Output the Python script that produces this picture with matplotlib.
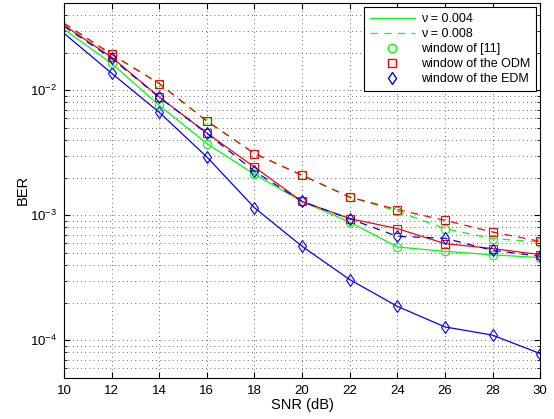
import matplotlib
matplotlib.use("Agg")
import matplotlib.pyplot as plt
from matplotlib.lines import Line2D
from matplotlib.ticker import LogLocator, NullFormatter

plt.rcParams['font.family'] = ['Liberation Sans', 'DejaVu Sans']
plt.rcParams['mathtext.fontset'] = 'custom'
plt.rcParams['mathtext.rm'] = 'Liberation Sans'

snr = [10, 12, 14, 16, 18, 20, 22, 24, 26, 28, 30]

# window of [11]
ber_w11_004 = [0.0308, 0.0164, 0.00759, 0.00375, 0.00213, 0.00129, 0.000884, 0.000558, 0.000515, 0.000483, 0.000459]
ber_w11_008 = [0.0343, 0.0194, 0.01132, 0.00568, 0.00312, 0.00209, 0.00140, 0.00108, 0.000783, 0.000651, 0.000611]
# window of the ODM
ber_odm_004 = [0.0331, 0.0184, 0.00884, 0.00455, 0.00243, 0.00129, 0.000941, 0.000783, 0.000594, 0.000542, 0.000485]
ber_odm_008 = [0.0344, 0.0194, 0.01132, 0.00568, 0.00312, 0.00209, 0.00140, 0.00111, 0.000912, 0.000735, 0.000619]
# window of the EDM
ber_edm_004 = [0.0286, 0.0137, 0.00667, 0.00293, 0.00115, 0.000565, 0.000306, 0.000187, 0.000128, 0.000110, 7.83e-5]
ber_edm_008 = [0.0325, 0.0180, 0.00879, 0.00453, 0.00225, 0.00129, 0.000938, 0.000679, 0.000655, 0.000525, 0.000470]

fig = plt.figure(figsize=(5.54, 4.19), dpi=100)
ax = fig.add_axes([0.1155, 0.098, 0.8595, 0.895])

G = (0, 1, 0)
R = (1, 0, 0)
B = (0, 0, 1)
mk = dict(markevery=list(range(1, len(snr))), markersize=6, markerfacecolor='none',
          markeredgewidth=0.8, linewidth=0.9)
dash = (6, 5)

ax.plot(snr, ber_edm_004, color=B, marker='d', **mk)
ax.plot(snr, ber_w11_004, color=G, marker='o', **mk)
ax.plot(snr, ber_w11_008, color=G, marker='o', dashes=dash, **mk)
ax.plot(snr, ber_odm_004, color=R, marker='s', **mk)
ax.plot(snr, ber_odm_008, color=R, marker='s', dashes=dash, **mk)
ax.plot(snr, ber_edm_008, color=B, marker='d', dashes=dash, **mk)

ax.set_yscale('log')
ax.set_xlim(10, 30)
ax.set_ylim(5e-5, 5e-2)
ax.set_xticks(range(10, 31, 2))
ax.yaxis.set_major_locator(LogLocator(base=10, numticks=10))
ax.yaxis.set_minor_locator(LogLocator(base=10, subs=range(2, 10), numticks=20))
ax.yaxis.set_minor_formatter(NullFormatter())

gkw = dict(linestyle=(0, (1, 4)), color='0.25', linewidth=0.6)
ax.grid(True, which='major', **gkw)
ax.grid(True, which='minor', axis='y', **gkw)

ax.tick_params(which='both', direction='in', top=True, right=True, labelsize=9.5)
ax.tick_params(which='major', length=4, pad=5)
ax.tick_params(which='minor', length=2)
for s in ax.spines.values():
    s.set_linewidth(0.8)

ax.set_xlabel('SNR (dB)', fontsize=10.5, labelpad=1)
ax.set_ylabel('BER', fontsize=10.5, labelpad=0)

handles = [
    Line2D([], [], color=G, linewidth=0.9),
    Line2D([], [], color=G, linewidth=0.9, dashes=dash),
    Line2D([], [], color=G, marker='o', linestyle='none', markerfacecolor='none', markersize=6),
    Line2D([], [], color=R, marker='s', linestyle='none', markerfacecolor='none', markersize=6),
    Line2D([], [], color=B, marker='d', linestyle='none', markerfacecolor='none', markersize=6),
]
labels = ['\u03bd = 0.004', '\u03bd = 0.008', 'window of [11]', 'window of the ODM', 'window of the EDM']
leg = ax.legend(handles, labels, loc='upper right', fontsize=9, fancybox=False,
                framealpha=1, edgecolor='k', borderaxespad=0.35, handlelength=3.6,
                labelspacing=0.25, borderpad=0.45, handletextpad=0.5)
leg.get_frame().set_linewidth(0.8)

fig.savefig('out.png', dpi=100)
